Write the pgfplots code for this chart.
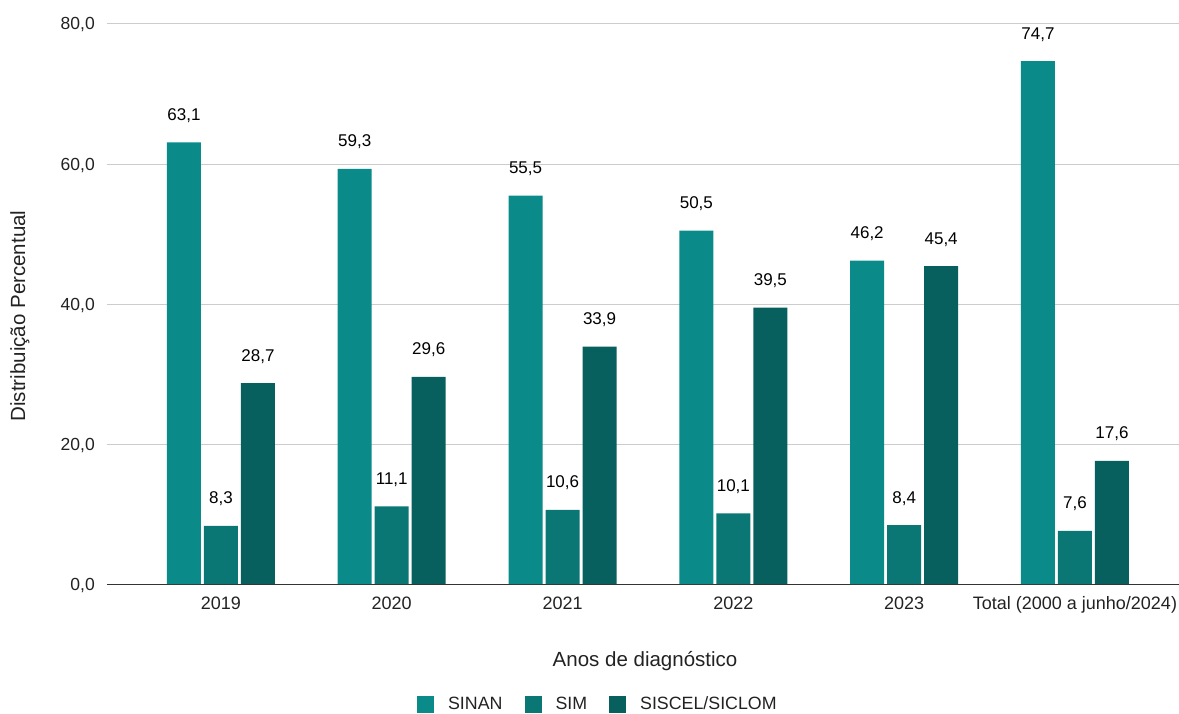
\documentclass[border=0pt]{standalone}
\usepackage{pgfplots}
\pgfplotsset{compat=1.18}
\usepackage{fontspec}
\setmainfont{Liberation Sans}

\definecolor{sinan}{HTML}{0A8B8A}
\definecolor{sim}{HTML}{0B7774}
\definecolor{siscel}{HTML}{07605D}
\definecolor{gridgray}{HTML}{CCCCCC}
\definecolor{txt}{HTML}{222222}

\begin{document}
\begin{tikzpicture}
\useasboundingbox (-107pt,-129pt) rectangle (1072pt,584pt);
\begin{axis}[
  scale only axis,
  width=1072pt, height=560pt,
  ybar=3pt, bar width=34pt,
  xmin=-0.667, xmax=5.609,
  ymin=0, ymax=80,
  xtick={0,1,2,3,4,5},
  xticklabels={2019,2020,2021,2022,2023,{Total (2000 a junho/2024)}},
  ytick={0,20,40,60,80},
  axis lines=left,
  axis line style={-},
  y axis line style={draw=none},
  x axis line style={draw=black!80, line width=1pt},
  major tick length=0pt,
  ymajorgrids,
  grid style={gridgray, line width=1pt},
  /pgf/number format/.cd, fixed, fixed zerofill, precision=1, use comma, assume math mode=true,
  /pgfplots/.cd,
  yticklabel style={anchor=base east, inner sep=0pt, xshift=-12pt, yshift=-6pt,
    font=\fontsize{17.5}{20}\selectfont, text=txt},
  xticklabel style={anchor=base, inner sep=0pt, yshift=-25pt,
    font=\fontsize{18}{21}\selectfont, text=txt},
  every axis y label/.style={at={(axis description cs:-0.0812,0.4786)}, rotate=90,
    anchor=center, font=\fontsize{20.5}{24}\selectfont, text=txt},
  every axis x label/.style={at={(axis description cs:0.5019,-0.148)},
    anchor=base, font=\fontsize{20.5}{24}\selectfont, text=txt},
  ylabel={Distribuição Percentual},
  xlabel={Anos de diagnóstico},
  nodes near coords,
  every node near coord/.append style={anchor=base, inner sep=0pt, yshift=22pt,
    font=\fontsize{17}{20}\selectfont, text=black},
  legend columns=3,
  legend style={draw=none, fill=none, at={(axis description cs:0.457,-0.2143)},
    anchor=center, font=\fontsize{17.8}{21}\selectfont, text=txt,
    nodes={inner sep=0pt},
    /tikz/every odd column/.style={column sep=14pt},
    /tikz/every even column/.style={column sep=22pt}},
  legend image code/.code={\fill[#1] (0pt,-8.5pt) rectangle (17pt,8.5pt);},
]
\addplot[fill=sinan, draw=none] coordinates {(0,63.1) (1,59.3) (2,55.5) (3,50.5) (4,46.2) (5,74.7)};
\addplot[fill=sim, draw=none] coordinates {(0,8.3) (1,11.1) (2,10.6) (3,10.1) (4,8.4) (5,7.6)};
\addplot[fill=siscel, draw=none] coordinates {(0,28.7) (1,29.6) (2,33.9) (3,39.5) (4,45.4) (5,17.6)};
\legend{SINAN,SIM,SISCEL/SICLOM}
\end{axis}
\end{tikzpicture}
\end{document}
